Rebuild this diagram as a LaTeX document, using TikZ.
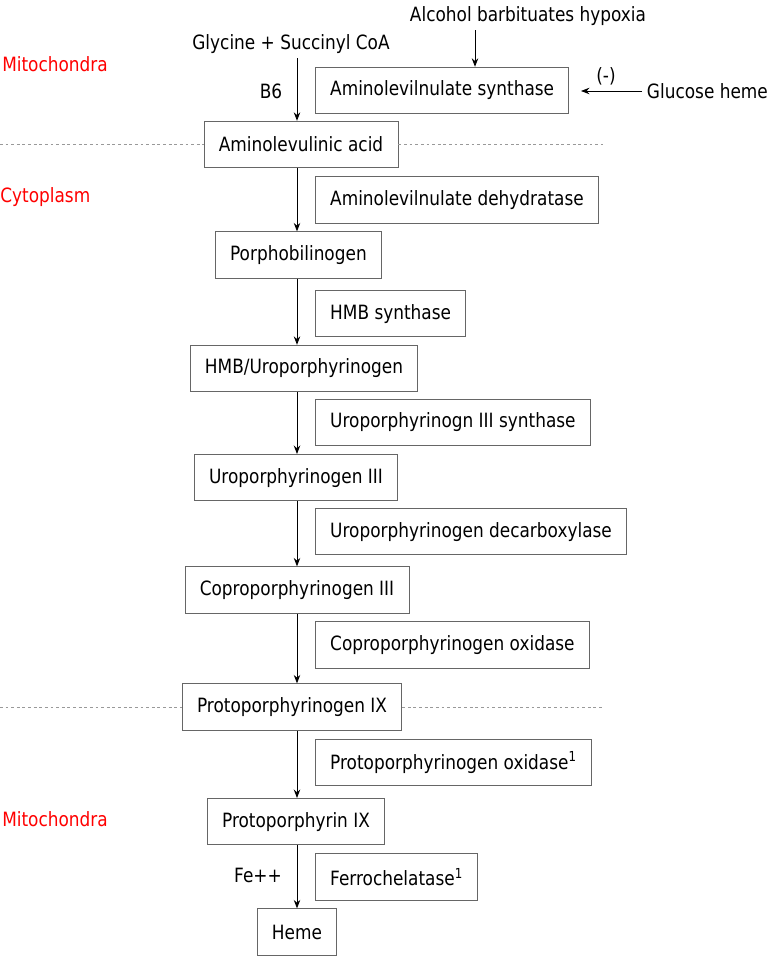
\documentclass[tikz,border=0pt]{standalone}
\usepackage{fontspec}
\setmainfont{DejaVu Sans}[FakeStretch=0.86]
\usepackage{tikz}
\usetikzlibrary{positioning, arrows.meta}
\newcommand{\pathsize}{\fontsize{14pt}{16.5pt}\selectfont}

\begin{document}
\begin{tikzpicture}[>={Stealth[length=6pt, width=4.6pt]}, font=\pathsize,
  stage/.style={draw=black!60, line width=0.6pt, minimum height=1.16cm, inner xsep=0.37cm},
  enzyme/.style={stage, anchor=west},
  region/.style={red, anchor=west, inner xsep=0pt},
  membrane/.style={gray!80, dash pattern=on 2pt off 2pt, line width=0.6pt},
  flow/.style={->, line width=0.6pt}]
  \useasboundingbox (0, 0) rectangle (19.375, 23.9);

  % compartments
  \node[region] (mito1) at (0.05, 22.3) {Mitochondra};
  \node[region] (cyto) at (0.0, 18.975) {Cytoplasm};
  \node[region] (mito2) at (0.05, 3.425) {Mitochondra};

  % intermediates
  \node[stage] (ala) at (7.525, 20.29) {Aminolevulinic acid};
  \node[stage] (pbg) at (7.46, 17.525) {Porphobilinogen};
  \node[stage] (hmb) at (7.6, 14.69) {HMB/Uroporphyrinogen};
  \node[stage] (uro) at (7.4, 11.96) {Uroporphyrinogen III};
  \node[stage] (copro) at (7.425, 9.15) {Coproporphyrinogen III};
  \node[stage] (protogen) at (7.3, 6.225) {Protoporphyrinogen IX};
  \node[stage] (proto) at (7.4, 3.36) {Protoporphyrin IX};
  \node[stage] (heme) at (7.425, 0.6) {Heme};

  % enzymes
  \node[enzyme] (als) at (7.875, 21.64) {Aminolevilnulate synthase};
  \node[enzyme] (alad) at (7.875, 18.9) {Aminolevilnulate dehydratase};
  \node[enzyme] (hmbs) at (7.875, 16.06) {HMB synthase};
  \node[enzyme] (uros) at (7.875, 13.34) {Uroporphyrinogn III synthase};
  \node[enzyme] (urod) at (7.875, 10.61) {Uroporphyrinogen decarboxylase};
  \node[enzyme] (cpox) at (7.875, 7.775) {Coproporphyrinogen oxidase};
  \node[enzyme] (ppox) at (7.875, 4.84) {Protoporphyrinogen oxidase\textsuperscript{1}};
  \node[enzyme] (fech) at (7.875, 1.975) {Ferrochelatase\textsuperscript{1}};

  % inputs and regulators
  \node (glysuc) at (7.275, 22.8) {Glycine + Succinyl CoA};
  \node (b6) at (6.775, 21.625) {B6};
  \node (alc) at (13.2, 23.5) {Alcohol barbituates hypoxia};
  \node[anchor=west] (glu) at (16.05, 21.625) {Glucose heme};
  \node (neg) at (15.15, 22.0) {(-)};
  \node (fe) at (6.45, 2.025) {Fe++};
  \coordinate (spine) at (7.425, 0);
  \coordinate (alcin) at (11.875, 22.5);
  \coordinate (glutip) at (14.525, 21.625);

  \draw[flow] (glysuc.south -| spine) -- (ala.north -| spine);
  \draw[flow] (alc.south -| alcin) -- (als.north -| alcin);
  \draw[flow] (glu.west) -- (glutip);
  \foreach \a/\b in {ala/pbg, pbg/hmb, hmb/uro, uro/copro, copro/protogen, protogen/proto, proto/heme}
    \draw[flow] (\a.south -| spine) -- (\b.north -| spine);

  % membranes
  \draw[membrane] (0, 0 |- ala) -- (ala.west);
  \draw[membrane] (ala.east) -- (15.075, 0 |- ala);
  \draw[membrane] (0, 0 |- protogen) -- (protogen.west);
  \draw[membrane] (protogen.east) -- (15.075, 0 |- protogen);
\end{tikzpicture}
\end{document}
